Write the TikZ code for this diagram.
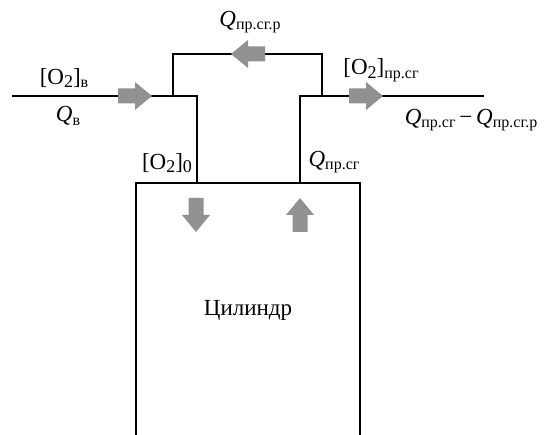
\documentclass[tikz,border=0pt]{standalone}
\usepackage{fontspec}
\setmainfont{Liberation Serif}
\newcommand{\lsub}[1]{\raisebox{-0.35ex}{\fontsize{16}{17}\selectfont #1}}
\newcommand{\nsub}[1]{\raisebox{-0.35ex}{\fontsize{18}{19}\selectfont #1}}
\newcommand{\Qi}{\textit{Q}}
\definecolor{arrowgray}{RGB}{145,145,145}
\tikzset{
  pipe/.style={line width=1.6pt, line cap=rect},
  lbl/.style={font=\fontsize{23}{25}\selectfont, inner sep=0pt},
  blockarrow/.pic={\fill[arrowgray] (-17,-7.5) -- (0,-7.5) -- (0,-14) -- (17,0) -- (0,14) -- (0,7.5) -- (-17,7.5) -- cycle;}
}
\begin{document}
\begin{tikzpicture}[x=1pt,y=-1pt]
\useasboundingbox (0,0) rectangle (548,435);
% pipe coordinates
\coordinate (inL) at (13,96);
\coordinate (j1) at (197,96);
\coordinate (j0) at (197,183);
\coordinate (lp) at (173,96);
\coordinate (lpt) at (173,54);
\coordinate (rpt) at (322,54);
\coordinate (rp) at (322,96);
\coordinate (j2) at (300,96);
\coordinate (j3) at (300,183);
\coordinate (outR) at (483,96);
\coordinate (cbl) at (136,435);
\coordinate (ctl) at (136,183);
\coordinate (ctr) at (360,183);
\coordinate (cbr) at (360,435);
% lines
\draw[pipe] (inL) -- (j1) -- (j0);
\draw[pipe] (lp) -- (lpt) -- (rpt) -- (rp);
\draw[pipe] (j3) -- (j2) -- (outR);
\draw[pipe, line cap=butt] (cbl) -- (ctl) -- (ctr) -- (cbr);
% block arrows
\pic at (135,96) {blockarrow};
\pic[rotate=180] at (248,54) {blockarrow};
\pic at (366,96) {blockarrow};
\pic[rotate=-90] at (196,215) {blockarrow};
\pic[rotate=90] at (300,215) {blockarrow};
% labels
\node[lbl] (lO2b) at (64,78) {[O\nsub{2}]\lsub{в}};
\node[lbl] (lQb) at (68,116) {\Qi\lsub{в}};
\node[lbl] (lO20) at (167,163) {[O\nsub{2}]\nsub{0}};
\node[lbl] (lQr) at (250,22) {\Qi\lsub{пр.сг.р}};
\node[lbl] (lO2s) at (381,70) {[O\nsub{2}]\lsub{пр.сг}};
\node[lbl] (lQd) at (471,120) {\Qi\lsub{пр.сг}\,−\,\Qi\lsub{пр.сг.р}};
\node[lbl] (lQs) at (334,162) {\Qi\lsub{пр.сг}};
\node[lbl] (cyl) at (248,310) {Цилиндр};
\end{tikzpicture}
\end{document}
